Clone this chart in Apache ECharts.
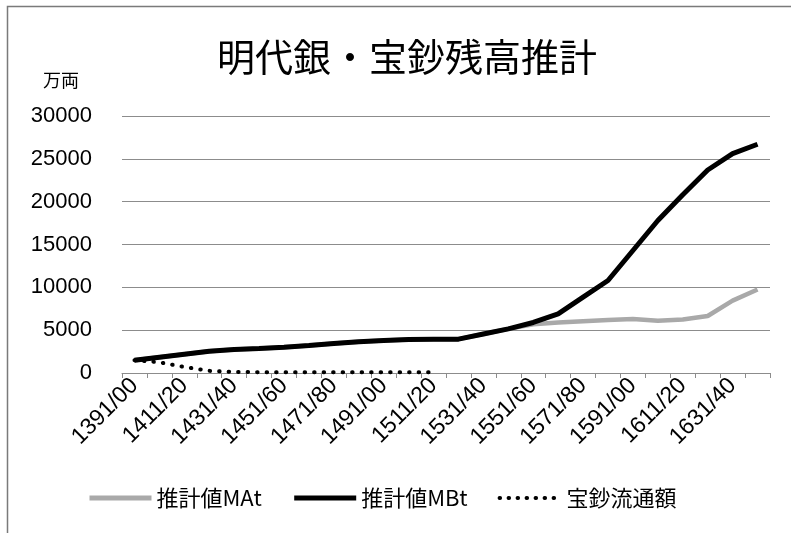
<!DOCTYPE html>
<html>
<head>
<meta charset="utf-8">
<script src="https://cdn.jsdelivr.net/npm/echarts@6/dist/echarts.min.js"></script>
<style>
  html, body { margin: 0; padding: 0; background: #fff; }
  #chart { width: 791px; height: 533px; }
</style>
</head>
<body>
<div id="chart"></div>
<script>
// Decade periods (1391/00 … 1641/50)
const periods = [
  '1391/00', '1401/10', '1411/20', '1421/30', '1431/40', '1441/50',
  '1451/60', '1461/70', '1471/80', '1481/90', '1491/00', '1501/10',
  '1511/20', '1521/30', '1531/40', '1541/50', '1551/60', '1561/70',
  '1571/80', '1581/90', '1591/00', '1601/10', '1611/20', '1621/30',
  '1631/40', '1641/50'
];

// Estimated silver stock, scenario A (万両)
const estimateMAt = [
  1500, 1850, 2200, 2550, 2750, 2850, 3000, 3200, 3450, 3650,
  3800, 3900, 3950, 3950, 4550, 5150, 5700, 5900, 6050, 6200,
  6300, 6100, 6250, 6650, 8450, 9750
];

// Estimated silver stock, scenario B (万両)
const estimateMBt = [
  1500, 1850, 2200, 2550, 2750, 2850, 3000, 3200, 3450, 3650,
  3800, 3900, 3950, 3950, 4550, 5150, 5900, 6900, 8850, 10800,
  14300, 17800, 20800, 23700, 25600, 26700
];

// Paper money (宝鈔) in circulation (万両), recorded up to 1511/20
const paperMoney = [
  1500, 1250, 700, 250, 120, 100, 100, 100, 100, 100, 100, 100, 100
];

const yTicks = { min: 0, max: 30000, interval: 5000 };

const cjk = '"Noto Sans CJK JP", "Noto Sans", sans-serif';
const latin = '"Liberation Sans", Arial, "Noto Sans CJK JP", sans-serif';

const styleMAt = { color: '#a9a9a9', width: 4.5 };
const styleMBt = { color: '#000000', width: 5 };
const stylePaper = { color: '#000000', width: 4, type: [0.5, 9], cap: 'round' };

const chart = echarts.init(document.getElementById('chart'), null, { renderer: 'canvas' });

chart.setOption({
  animation: false,
  backgroundColor: '#ffffff',
  graphic: [
    {
      type: 'rect',
      shape: { x: 7.5, y: 6.5, width: 900, height: 700 },
      style: { fill: 'none', stroke: '#7a7a7a', lineWidth: 1.5 },
      silent: true
    },
    {
      type: 'text',
      x: 407, y: 57,
      style: {
        text: '明代銀・宝鈔残高推計',
        font: '38px ' + cjk,
        fill: '#000',
        textAlign: 'center',
        textVerticalAlign: 'middle'
      }
    },
    {
      type: 'text',
      x: 61, y: 80,
      style: {
        text: '万両',
        font: '18px ' + cjk,
        fill: '#000',
        textAlign: 'center',
        textVerticalAlign: 'middle'
      }
    }
  ],
  grid: { left: 122, right: 21, top: 116, bottom: 160, containLabel: false },
  legend: {
    left: 82,
    top: 482,
    itemWidth: 62,
    itemHeight: 12,
    itemGap: 30,
    itemStyle: { opacity: 0 },
    textStyle: { fontSize: 22, fontFamily: cjk, color: '#000' },
    data: [
      { name: '推計値MAt', lineStyle: { color: styleMAt.color, width: 5 } },
      { name: '推計値MBt', lineStyle: { color: styleMBt.color, width: 5 } },
      { name: '宝鈔流通額', lineStyle: { color: '#000', width: 4, type: [0.5, 8.5], cap: 'round' } }
    ]
  },
  xAxis: {
    type: 'category',
    data: periods,
    boundaryGap: true,
    axisLine: { show: true, lineStyle: { color: '#8c8c8c', width: 1 } },
    axisTick: { show: true, length: 5, interval: 0, lineStyle: { color: '#8c8c8c' } },
    axisLabel: {
      interval: 1,
      rotate: 45,
      margin: 9,
      fontSize: 23,
      fontFamily: latin,
      color: '#000'
    },
    splitLine: { show: false }
  },
  yAxis: {
    type: 'value',
    min: yTicks.min,
    max: yTicks.max,
    interval: yTicks.interval,
    axisLine: { show: false },
    axisTick: { show: false },
    axisLabel: {
      margin: 30,
      fontSize: 22,
      fontFamily: latin,
      color: '#000',
      formatter: (v) => String(v)
    },
    splitLine: { show: true, lineStyle: { color: '#8c8c8c', width: 1 } }
  },
  series: [
    {
      name: '推計値MAt',
      type: 'line',
      data: estimateMAt,
      symbol: 'none',
      lineStyle: styleMAt,
      itemStyle: { color: styleMAt.color },
      z: 2
    },
    {
      name: '推計値MBt',
      type: 'line',
      data: estimateMBt,
      symbol: 'none',
      lineStyle: styleMBt,
      itemStyle: { color: styleMBt.color },
      z: 3
    },
    {
      name: '宝鈔流通額',
      type: 'line',
      data: paperMoney,
      symbol: 'none',
      lineStyle: stylePaper,
      itemStyle: { color: stylePaper.color },
      z: 4
    }
  ]
});
</script>
</body>
</html>
